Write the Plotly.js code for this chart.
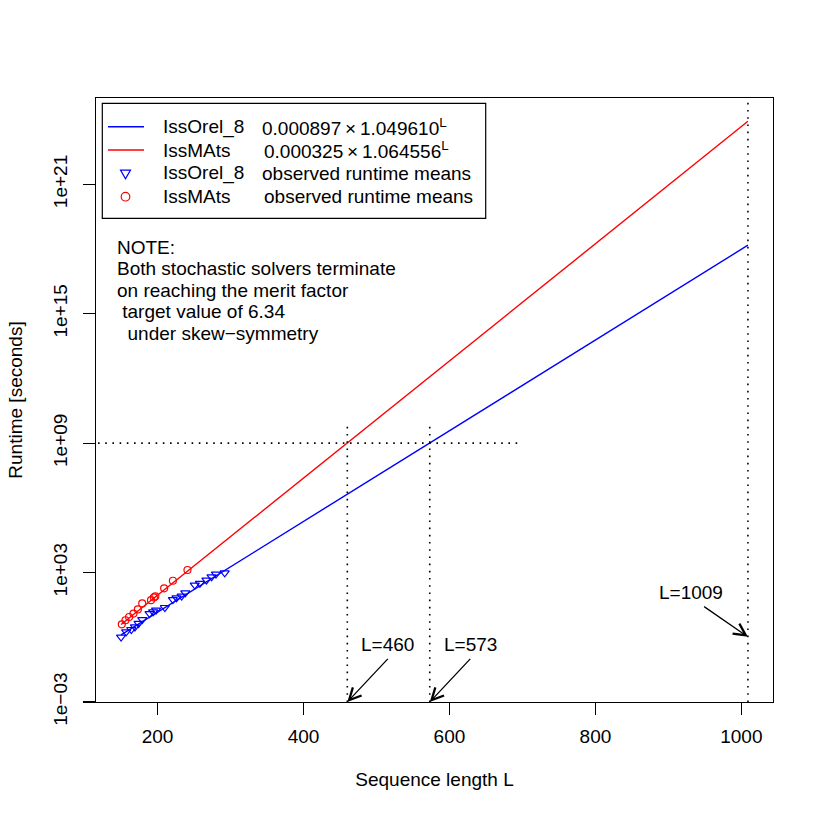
<!DOCTYPE html>
<html>
<head>
<meta charset="utf-8">
<script src="https://cdn.plot.ly/plotly-3.0.1.min.js"></script>
<style>
    body { margin: 0; background: #ffffff; }
    #chart { width: 822px; height: 822px; }
</style>
</head>
<body>
<div id="chart"></div>
<script>
"use strict";

// fitted runtime lines, end points
const fitL = [150, 1009];
const orelFit = [1.3, 1.5e18];
const matsFit = [3.9, 8.3e23];

// observed runtime means (seconds)
const orelL = [150, 157, 164, 169, 174, 179, 189, 194, 198, 210, 221, 226, 233, 238, 251, 258, 267, 274, 280, 292];
const orelY = [1.02, 1.78, 2.29, 3.02, 4.37, 6.61, 12.6, 15.1, 18.2, 24.0, 56.2, 67.6, 81.3, 115, 263, 316, 447, 631, 851, 977];
const matsL = [151, 156, 161, 167, 173, 179, 191, 195, 197, 209, 221, 241];
const matsY = [3.98, 6.17, 8.71, 12.6, 19.5, 37.2, 52.5, 70.8, 79.4, 186, 417, 1318];

// reference marks
const targetRuntime = 1e9;
const crossL = [460, 573];
const maxL = 1009;

// axis ticks
const xTicks = [200, 400, 600, 800, 1000];
const yTicks = [1e-3, 1e3, 1e9, 1e15, 1e21];
const yTickText = ["1e\u221203", "1e+03", "1e+09", "1e+15", "1e+21"];

// legend rows: solver name and second column
const legendNames = ["IssOrel_8", "IssMAts", "IssOrel_8", "IssMAts"];
const legendInfo = [
    "0.000897\u2009\u00D7\u20091.049610<sup>L</sup>",
    "0.000325\u2009\u00D7\u20091.064556<sup>L</sup>",
    "observed runtime means",
    "observed runtime means"
];

const noteLines = [
    "NOTE:",
    "Both stochastic solvers terminate",
    "on reaching the merit factor",
    " target value of 6.34",
    "  under skew\u2212symmetry"
];

const FONT = "Liberation Sans, Arial, Helvetica, sans-serif";
const BLUE = "#0000ff";
const RED = "#ff0000";

// plot box in pixels, used to place free text
const box = { l: 96, r: 49, t: 98, b: 120, w: 822, h: 822 };
const px = x => (x - box.l) / (box.w - box.l - box.r);
const py = y => (box.h - box.b - y) / (box.h - box.t - box.b);

window.addEventListener("load", init);

function init() {
    let traces = [];

    traces.push({
        x: fitL, y: orelFit, mode: "lines", type: "scatter",
        line: { color: BLUE, width: 1.4 }
    });
    traces.push({
        x: fitL, y: matsFit, mode: "lines", type: "scatter",
        line: { color: RED, width: 1.4 }
    });
    traces.push({
        x: orelL, y: orelY, mode: "markers", type: "scatter",
        marker: { symbol: "triangle-down-open", size: 8, color: BLUE, line: { width: 1.2 } }
    });
    traces.push({
        x: matsL, y: matsY, mode: "markers", type: "scatter",
        marker: { symbol: "circle-open", size: 7, color: RED, line: { width: 1.2 } }
    });

    // dotted guide lines
    const dotted = { color: "#000000", width: 1.6, dash: "1.6px,5.6px" };
    traces.push({
        x: [0, 700], y: [targetRuntime, targetRuntime], mode: "lines", line: dotted
    });
    crossL.forEach(L => {
        traces.push({ x: [L, L], y: [1e-3, 1e10], mode: "lines", line: dotted });
    });
    traces.forEach(t => { t.showlegend = false; t.hoverinfo = "skip"; });

    let annotations = [];
    noteLines.forEach((t, i) => {
        annotations.push({
            xref: "paper", yref: "paper", x: px(115), y: py(247 + i * 21.5),
            xanchor: "left", yanchor: "middle", showarrow: false,
            text: t.replace(/ /g, "\u00A0")
        });
    });

    // arrow labels, text sits just above the arrow tail (annotation y is log10)
    const labels = [
        { text: "L=460", ax: 515.5, ay: -1.0, hx: 460, hy: -3 },
        { text: "L=573", ax: 628.5, ay: -1.0, hx: 573, hy: -3 },
        { text: "L=1009" + "\u00A0".repeat(5), ax: 949, ay: 1.42, hx: 1009, hy: 0.02 }
    ];
    labels.forEach(a => {
        annotations.push({
            x: a.hx, y: a.hy, xref: "x", yref: "y", text: a.text,
            showarrow: true, axref: "x", ayref: "y", ax: a.ax, ay: a.ay,
            xanchor: "center", yanchor: "bottom", borderpad: 3,
            arrowhead: 5, arrowsize: 1.8, arrowwidth: 1.3, arrowcolor: "#000000",
            standoff: 0, startstandoff: 0
        });
    });

    // legend drawn by hand to keep R's row spacing
    const rowY = [126.7, 150, 173.3, 196.7];
    const infoX = [260, 262, 260, 262];
    let shapes = [{
        type: "rect", xref: "paper", yref: "paper",
        x0: px(102.3), x1: px(485.7), y0: py(218.3), y1: py(103.3),
        line: { color: "#000000", width: 1.2 }, fillcolor: "#ffffff", layer: "above"
    }];
    [BLUE, RED].forEach((c, i) => {
        shapes.push({
            type: "line", xref: "paper", yref: "paper",
            x0: px(108), x1: px(144), y0: py(rowY[i]), y1: py(rowY[i]),
            line: { color: c, width: 1.4 }, layer: "above"
        });
    });
    shapes.push({
        type: "path", xref: "paper", yref: "paper", xsizemode: "pixel", ysizemode: "pixel",
        xanchor: px(125.5), yanchor: py(rowY[2]), path: "M-5,3.2 L5,3.2 L0,-5.4 Z",
        line: { color: BLUE, width: 1.2 }, layer: "above"
    });
    shapes.push({
        type: "circle", xref: "paper", yref: "paper", xsizemode: "pixel", ysizemode: "pixel",
        xanchor: px(125.5), yanchor: py(rowY[3]), x0: -4.3, x1: 4.3, y0: -4.3, y1: 4.3,
        line: { color: RED, width: 1.2 }, layer: "above"
    });
    legendNames.forEach((n, i) => {
        annotations.push({
            xref: "paper", yref: "paper", x: px(160.7), y: py(rowY[i]),
            xanchor: "left", yanchor: "middle", showarrow: false, text: n
        });
        annotations.push({
            xref: "paper", yref: "paper", x: px(infoX[i]), y: py(rowY[i]),
            xanchor: "left", yanchor: "middle", showarrow: false, text: legendInfo[i]
        });
    });

    // dotted line at the largest length, full height
    shapes.push({
        type: "line", xref: "x", yref: "paper", x0: maxL, x1: maxL, y0: 0, y1: 1,
        line: dotted
    });

    const layout = {
        width: 822, height: 822,
        margin: { l: box.l, r: box.r, t: box.t, b: box.b },
        paper_bgcolor: "#ffffff", plot_bgcolor: "#ffffff",
        font: { family: FONT, size: 19, color: "#000000" },
        showlegend: false,
        xaxis: {
            range: [115.64, 1043.36], showgrid: false, zeroline: false,
            showline: true, mirror: true, linecolor: "#000000", linewidth: 1.2,
            ticks: "outside", ticklen: 12, tickwidth: 1.2, tickcolor: "#000000",
            tickvals: xTicks, ticktext: xTicks.map(String), ticklabelstandoff: 5,
            title: { text: "Sequence length L", font: { size: 19 }, standoff: 26 }
        },
        yaxis: {
            type: "log", range: [-3, 25], showgrid: false, zeroline: false,
            showline: true, mirror: true, linecolor: "#000000", linewidth: 1.2,
            ticks: "outside", ticklen: 12, tickwidth: 1.2, tickcolor: "#000000",
            tickvals: yTicks, ticktext: yTickText, tickangle: -90, ticklabelstandoff: 8,
            title: { text: "Runtime [seconds]", font: { size: 19 }, standoff: 22 }
        },
        shapes: shapes,
        annotations: annotations
    };

    Plotly.newPlot("chart", traces, layout, { staticPlot: true });
}
</script>
</body>
</html>
